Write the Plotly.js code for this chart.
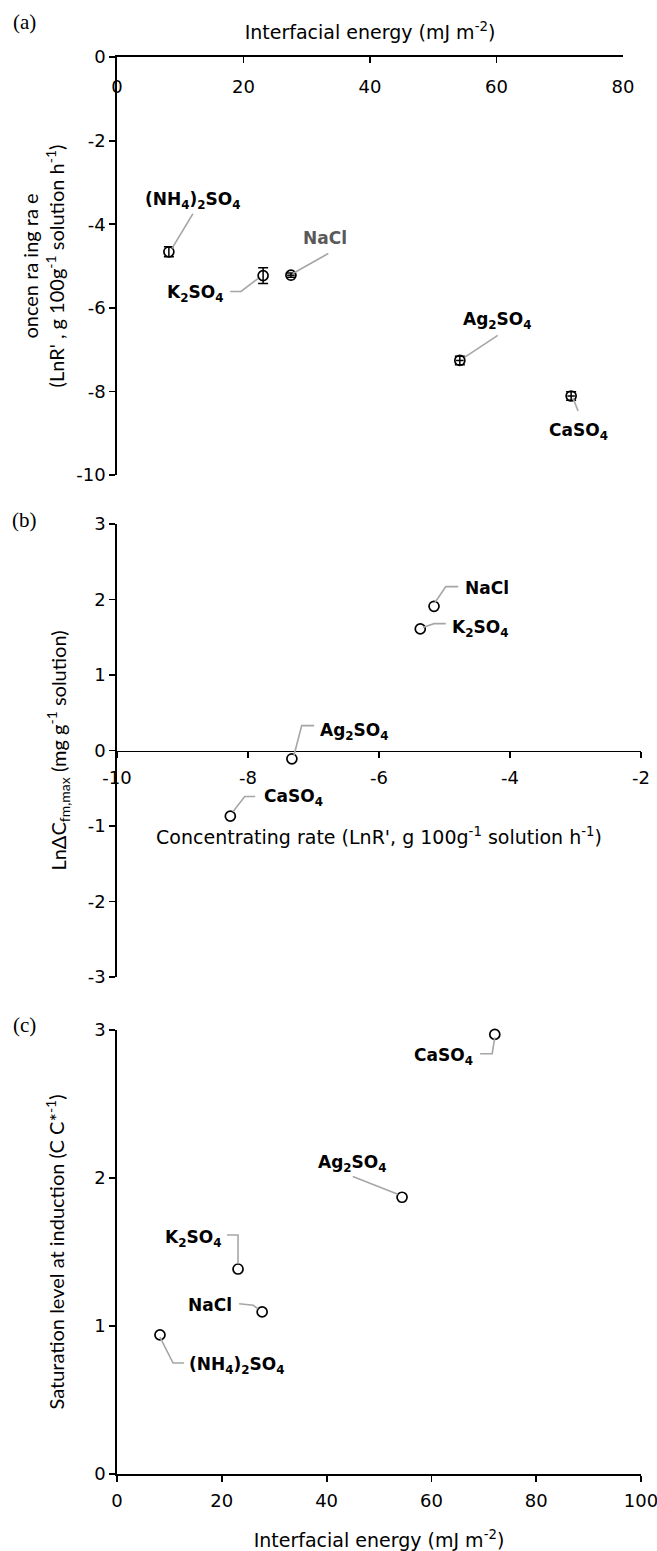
<!DOCTYPE html>
<html>
<head>
<meta charset="utf-8">
<script src="https://cdn.plot.ly/plotly-3.0.1.min.js"></script>
<style>html,body{margin:0;padding:0;background:#fff;}#chart{width:657px;height:1551px;}</style>
</head>
<body>
<div id="chart"></div>
<script>
// ---------- DATA ----------
// Panel (a): interfacial energy vs concentrating rate
const saltsA = ['(NH<sub>4</sub>)<sub>2</sub>SO<sub>4</sub>', 'K<sub>2</sub>SO<sub>4</sub>', 'NaCl', 'Ag<sub>2</sub>SO<sub>4</sub>', 'CaSO<sub>4</sub>'];
const energyA = [8.2, 23.1, 27.5, 54.2, 71.8];
const energyErrA = [0, 0, 0.6, 0.6, 0.6];
const concRateA = [-4.66, -5.23, -5.22, -7.26, -8.11];
const concRateErrA = [0.12, 0.19, 0.05, 0.1, 0.1];

// Panel (b): concentrating rate vs LnΔC fm,max
const saltsB = ['NaCl', 'K<sub>2</sub>SO<sub>4</sub>', 'Ag<sub>2</sub>SO<sub>4</sub>', 'CaSO<sub>4</sub>'];
const concRateB = [-5.16, -5.37, -7.33, -8.27];
const lnDeltaCB = [1.91, 1.61, -0.11, -0.87];

// Panel (c): interfacial energy vs saturation level at induction
const saltsC = ['(NH<sub>4</sub>)<sub>2</sub>SO<sub>4</sub>', 'K<sub>2</sub>SO<sub>4</sub>', 'NaCl', 'Ag<sub>2</sub>SO<sub>4</sub>', 'CaSO<sub>4</sub>'];
const energyC = [8.2, 23.1, 27.7, 54.4, 72.1];
const saturationC = [0.94, 1.385, 1.095, 1.87, 2.97];

// Axis tick values
const ticksEnergyA = [0, 20, 40, 60, 80];
const ticksRateA = [-10, -8, -6, -4, -2, 0];
const ticksRateB = [-10, -8, -6, -4, -2];
const ticksLnB = [-3, -2, -1, 0, 1, 2, 3];
const ticksEnergyC = [0, 20, 40, 60, 80, 100];
const ticksSatC = [0, 1, 2, 3];

// ---------- CALLOUT PLACEMENT (label position + leader path, data units) ----------
const calloutsA = [
  {lx: 12.0, ly: -3.44, path: [[12.0, -3.75], [8.7, -4.58]]},
  {lx: 12.4, ly: -5.66, path: [[17.9, -5.61], [19.6, -5.61], [22.3, -5.30]]},
  {lx: 32.9, ly: -4.34, path: [[33.4, -4.70], [27.8, -5.18]], color: '#595959'},
  {lx: 60.2, ly: -6.30, path: [[60.2, -6.66], [55.0, -7.18]]},
  {lx: 72.9, ly: -8.97, path: [[72.1, -8.16], [72.9, -8.47]]}
];
const calloutsB = [
  {lx: -4.35, ly: 2.15, path: [[-5.145, 1.96], [-4.98, 2.17], [-4.79, 2.17]]},
  {lx: -4.46, ly: 1.62, path: [[-5.33, 1.63], [-5.16, 1.68], [-4.98, 1.68]]},
  {lx: -6.38, ly: 0.25, path: [[-7.30, -0.07], [-7.18, 0.33], [-6.99, 0.33]]},
  {lx: -7.31, ly: -0.62, path: [[-8.23, -0.81], [-8.05, -0.61], [-7.89, -0.61]]}
];
const calloutsC = [
  {lx: 22.9, ly: 0.73, path: [[8.2, 0.925], [10.7, 0.75], [12.8, 0.75]]},
  {lx: 14.5, ly: 1.59, path: [[21.0, 1.615], [23.1, 1.615], [23.1, 1.42]]},
  {lx: 17.7, ly: 1.14, path: [[23.3, 1.15], [26.0, 1.14], [26.9, 1.115]]},
  {lx: 45.0, ly: 2.10, path: [[45.0, 2.01], [53.6, 1.89]]},
  {lx: 62.4, ly: 2.82, path: [[72.1, 2.95], [71.6, 2.84], [69.3, 2.84]]}
];

// ---------- LAYOUT GEOMETRY (pixels) ----------
const W = 657, H = 1551;
const fx = p => p / W;
const fy = p => 1 - p / H;
const HFONT = '"DejaVu Sans", "Open Sans", sans-serif';   // horizontal text
const VFONT = 'Lato, "Open Sans", sans-serif';             // rotated axis titles
const LEADER = '#a6a6a6';

const marker = {symbol: 'circle-open', size: 10, color: '#000', line: {width: 1.7, color: '#000'}};

const traces = [
  {
    type: 'scatter', mode: 'markers', x: energyA, y: concRateA, xaxis: 'x', yaxis: 'y',
    marker: marker, cliponaxis: false, hoverinfo: 'skip',
    error_y: {type: 'data', array: concRateErrA, visible: true, color: '#000', thickness: 1.5, width: 5},
    error_x: {type: 'data', array: energyErrA, visible: true, color: '#000', thickness: 1.5, width: 0}
  },
  {
    type: 'scatter', mode: 'markers', x: concRateB, y: lnDeltaCB, xaxis: 'x2', yaxis: 'y2',
    marker: marker, cliponaxis: false, hoverinfo: 'skip'
  },
  {
    type: 'scatter', mode: 'markers', x: energyC, y: saturationC, xaxis: 'x3', yaxis: 'y3',
    marker: marker, cliponaxis: false, hoverinfo: 'skip'
  }
];

const annotations = [];
const shapes = [];
function addCallouts(callouts, names, xr, yr) {
  callouts.forEach((c, i) => {
    annotations.push({
      xref: xr, yref: yr, x: c.lx, y: c.ly, text: '<b>' + names[i] + '</b>',
      showarrow: false, xanchor: 'center', yanchor: 'middle',
      font: {family: HFONT, size: 17, color: c.color || '#000'}
    });
    const d = c.path.map((p, k) => (k ? 'L' : 'M') + p[0] + ',' + p[1]).join(' ');
    shapes.push({type: 'path', xref: xr, yref: yr, path: d, line: {color: LEADER, width: 1.6}});
  });
}
addCallouts(calloutsA, saltsA, 'x', 'y');
addCallouts(calloutsB, saltsB, 'x2', 'y2');
addCallouts(calloutsC, saltsC, 'x3', 'y3');

[['(a)', 22], ['(b)', 520], ['(c)', 1025]].forEach(([t, py]) => {
  annotations.push({xref: 'paper', yref: 'paper', x: fx(24), y: fy(py), text: t, showarrow: false,
    xanchor: 'center', yanchor: 'middle', font: {family: '"Liberation Serif", "DejaVu Serif", serif', size: 21, color: '#000'}});
});

const txt = v => String(v);   // plain hyphen-minus, as in the reference
const axisBase = {
  showline: true, linecolor: '#000', linewidth: 1.8, showgrid: false, zeroline: false,
  ticks: 'outside', ticklen: 6, tickwidth: 1.8, tickcolor: '#000', ticklabeloverflow: 'allow',
  tickfont: {family: HFONT, size: 18, color: '#000'}, fixedrange: true
};
const hTitle = {family: HFONT, size: 19, color: '#000'};
const vTitle = {family: VFONT, size: 20, color: '#000'};

const yDomA = [fy(475), fy(57)];
const yDomB = [fy(977), fy(524)];
const yDomC = [fy(1474), fy(1030)];

const layout = {
  width: W, height: H, margin: {l: 0, r: 0, t: 0, b: 0},
  paper_bgcolor: '#fff', plot_bgcolor: 'rgba(0,0,0,0)', showlegend: false,
  font: {family: HFONT, size: 18, color: '#000'},
  xaxis: Object.assign({}, axisBase, {
    domain: [fx(117), fx(623)], range: [0, 80], tickvals: ticksEnergyA, ticktext: ticksEnergyA.map(txt),
    anchor: 'y', side: 'top', ticks: 'inside',
    ticklabelposition: 'inside', ticklabelstandoff: 18,
    title: {text: 'Interfacial energy (mJ m<sup>-2</sup>)', font: hTitle, standoff: 31}
  }),
  yaxis: Object.assign({}, axisBase, {
    domain: yDomA, range: [-10, 0], tickvals: ticksRateA, ticktext: ticksRateA.map(txt), anchor: 'x',
    title: {text: 'oncen ra ing ra e<br>(LnR\' , g 100g<sup>-1</sup> solution h<sup>-1</sup>)', font: vTitle, standoff: 6}
  }),
  xaxis2: Object.assign({}, axisBase, {
    domain: [fx(117), fx(641)], range: [-10, -2], tickvals: ticksRateB, ticktext: ticksRateB.map(txt), anchor: 'free',
    position: (yDomB[0] + yDomB[1]) / 2, ticklabelstandoff: 4,
    title: {text: 'Concentrating rate (LnR\', g 100g<sup>-1</sup> solution h<sup>-1</sup>)', font: hTitle, standoff: 44}
  }),
  yaxis2: Object.assign({}, axisBase, {
    domain: yDomB, range: [-3, 3], tickvals: ticksLnB, ticktext: ticksLnB.map(txt), anchor: 'x2',
    title: {text: 'LnΔC<sub>fm,max</sub> (mg g<sup>-1</sup> solution)', font: vTitle, standoff: 16}
  }),
  xaxis3: Object.assign({}, axisBase, {
    domain: [fx(117), fx(641)], range: [0, 100], tickvals: ticksEnergyC, ticktext: ticksEnergyC.map(txt), anchor: 'y3',
    ticklabelstandoff: 4,
    title: {text: 'Interfacial energy (mJ m<sup>-2</sup>)', font: hTitle, standoff: 24}
  }),
  yaxis3: Object.assign({}, axisBase, {
    domain: yDomC, range: [0, 3], tickvals: ticksSatC, ticktext: ticksSatC.map(txt), anchor: 'x3',
    title: {text: 'Saturation level at induction (C C*<sup>-1</sup>)', font: vTitle, standoff: 24}
  }),
  annotations: annotations,
  shapes: shapes
};

Plotly.newPlot('chart', traces, layout, {displayModeBar: false, staticPlot: true});
</script>
</body>
</html>
